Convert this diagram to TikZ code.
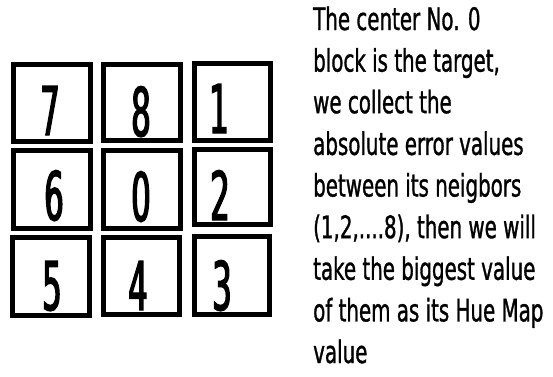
\documentclass[tikz,border=0pt]{standalone}
\usepackage{fontspec}
\newfontfamily\txtfont[FakeStretch=0.64,FakeBold=1]{DejaVu Sans}
\newfontfamily\digfont[FakeStretch=0.46,FakeBold=2]{DejaVu Sans}
\begin{document}
\begin{tikzpicture}[x=1pt,y=-1pt,
  cell/.style={draw=black,line width=5pt,inner sep=0pt,rectangle},
  digit/.style={anchor=base,inner sep=0pt,font=\digfont\fontsize{67}{67}\selectfont},
  txt/.style={anchor=base west,inner sep=0pt,font=\txtfont\fontsize{31}{40}\selectfont}]
\useasboundingbox[fill=white] (0,0) rectangle (553,376);
% cells
\node[cell,minimum width=77pt,minimum height=77pt] (b7) at (51.5,103) {};
\node[cell,minimum width=77pt,minimum height=76pt] (b8) at (142,102.5) {};
\node[cell,minimum width=76pt,minimum height=77pt] (b1) at (232.5,102) {};
\node[cell,minimum width=77pt,minimum height=78pt] (b6) at (52,189.5) {};
\node[cell,minimum width=77pt,minimum height=78pt] (b0) at (142,189.5) {};
\node[cell,minimum width=76pt,minimum height=75pt] (b2) at (232.5,187) {};
\node[cell,minimum width=77pt,minimum height=78pt] (b5) at (51,276.5) {};
\node[cell,minimum width=76pt,minimum height=77pt] (b4) at (141.5,276) {};
\node[cell,minimum width=75pt,minimum height=78pt] (b3) at (232,275.5) {};
% digits
\node[digit] (d7) at (50,135) {7};
\node[digit] (d8) at (141,136) {8};
\node[digit] (d1) at (219,133) {1};
\node[digit] (d6) at (54,220) {6};
\node[digit] (d0) at (141,221) {0};
\node[digit] (d2) at (220,220) {2};
\node[digit] (d5) at (52,310) {5};
\node[digit] (d4) at (138,310) {4};
\node[digit] (d3) at (222,310) {3};
% text
\node[txt] (t1) at (313,30) {The center No. 0};
\node[txt] (t2) at (313,71.6) {block is the target,};
\node[txt] (t3) at (313,113.2) {we collect the};
\node[txt] (t4) at (313,154.9) {absolute error values};
\node[txt] (t5) at (313,196.5) {between its neigbors};
\node[txt] (t6) at (313,238.1) {(1,2,....8), then we will};
\node[txt] (t7) at (313,279.8) {take the biggest value};
\node[txt] (t8) at (313,321.4) {of them as its Hue Map};
\node[txt] (t9) at (313,363) {value};
\end{tikzpicture}
\end{document}
